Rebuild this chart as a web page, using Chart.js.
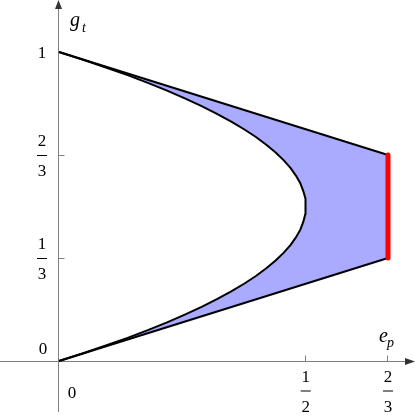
<!DOCTYPE html>
<html>
<head>
<meta charset="utf-8">
<script src="https://cdn.jsdelivr.net/npm/chart.js@4"></script>
<style>
  html, body { margin: 0; padding: 0; background: #fff; }
  #wrap { width: 415px; height: 415px; }
</style>
</head>
<body>
<div id="wrap"><canvas id="plot" width="415" height="415"></canvas></div>
<script>
// boundary curve (g_t going up, e_p across)
const curveG = [0, 0.025, 0.05, 0.075, 0.1, 0.125, 0.15, 0.175, 0.2, 0.225, 0.25, 0.275, 0.3, 0.325, 0.35, 0.375, 0.4, 0.425, 0.45, 0.475, 0.5,
  0.525, 0.55, 0.575, 0.6, 0.625, 0.65, 0.675, 0.7, 0.725, 0.75, 0.775, 0.8, 0.825, 0.85, 0.875, 0.9, 0.925, 0.95, 0.975, 1];
const curveE = [0, 0.049, 0.095, 0.139, 0.18, 0.219, 0.255, 0.289, 0.32, 0.349, 0.375, 0.399, 0.42, 0.439, 0.455, 0.469, 0.48, 0.489, 0.495, 0.499, 0.5,
  0.499, 0.495, 0.489, 0.48, 0.469, 0.455, 0.439, 0.42, 0.399, 0.375, 0.349, 0.32, 0.289, 0.255, 0.219, 0.18, 0.139, 0.095, 0.049, 0];

// straight edges
const edgeE = [0, 2 / 3];
const upperG = [1, 2 / 3];
const lowerG = [0, 1 / 3];
const redE = [2 / 3, 2 / 3];
const redG = [1 / 3, 2 / 3];

// ticks
const xTicks = [1 / 2, 2 / 3];
const xTickLabels = [['1', '2'], ['2', '3']];
const yTicks = [1 / 3, 2 / 3];
const yTickLabels = [['1', '3'], ['2', '3']];

const pts = (xs, ys) => xs.map((v, i) => ({ x: v, y: ys[i] }));

// closed outline of the shaded region
const regionPts = [
  { x: edgeE[0], y: upperG[0] }, { x: edgeE[1], y: upperG[1] },
  { x: edgeE[1], y: lowerG[1] }, { x: edgeE[0], y: lowerG[0] },
  ...pts(curveE, curveG)
];

const serif = '"Times New Roman", "Liberation Serif", serif';

function frac(ctx, num, den, cx, cy) {
  ctx.font = '17px ' + serif;
  ctx.textAlign = 'center';
  ctx.textBaseline = 'alphabetic';
  ctx.fillText(num, cx, cy - 9);
  ctx.fillText(den, cx, cy + 21);
  ctx.beginPath();
  ctx.moveTo(cx - 5, cy + 0.5);
  ctx.lineTo(cx + 5, cy + 0.5);
  ctx.stroke();
}

const axesPlugin = {
  id: 'mathAxes',
  beforeDatasetsDraw(chart) {
    const { ctx, scales: { x, y } } = chart;
    const x0 = Math.round(x.getPixelForValue(0)) - 0.5;
    const y0 = Math.round(y.getPixelForValue(0)) + 0.5;
    ctx.save();
    ctx.strokeStyle = '#808080';
    ctx.lineWidth = 1;
    ctx.beginPath();
    ctx.moveTo(x0, 412); ctx.lineTo(x0, 6);
    ctx.moveTo(0, y0); ctx.lineTo(408, y0);
    xTicks.forEach(v => {
      const px = Math.round(x.getPixelForValue(v)) - 0.5;
      ctx.moveTo(px, y0); ctx.lineTo(px, y0 - 6);
    });
    yTicks.forEach(v => {
      const py = Math.round(y.getPixelForValue(v)) + 0.5;
      ctx.moveTo(x0, py); ctx.lineTo(x0 + 6, py);
    });
    ctx.stroke();

    // arrow heads
    ctx.fillStyle = '#333';
    ctx.beginPath();
    ctx.moveTo(x0, 0); ctx.lineTo(x0 - 3.5, 9); ctx.lineTo(x0 + 3.5, 9); ctx.closePath();
    ctx.moveTo(415, y0); ctx.lineTo(405, y0 - 3.5); ctx.lineTo(405, y0 + 3.5); ctx.closePath();
    ctx.fill();

    // tick labels
    ctx.fillStyle = '#000';
    ctx.strokeStyle = '#000';
    xTicks.forEach((v, i) => {
      frac(ctx, xTickLabels[i][0], xTickLabels[i][1], x.getPixelForValue(v), y0 + 29);
    });
    yTicks.forEach((v, i) => {
      frac(ctx, yTickLabels[i][0], yTickLabels[i][1], 42, Math.round(y.getPixelForValue(v)));
    });
    ctx.font = '17px ' + serif;
    ctx.textAlign = 'center';
    ctx.fillText('1', 42, y.getPixelForValue(1) + 6);
    ctx.fillText('0', 43, y0 - 8);
    ctx.fillText('0', 72, y0 + 36);

    // axis names
    ctx.textAlign = 'left';
    ctx.font = 'italic 20px ' + serif;
    ctx.fillText('g', 70, 26);
    ctx.fillText('e', 379, 342);
    ctx.font = 'italic 14px ' + serif;
    ctx.fillText('t', 82, 32);
    ctx.fillText('p', 387, 347);
    ctx.restore();
  }
};

new Chart(document.getElementById('plot'), {
  type: 'scatter',
  data: {
    datasets: [
      { data: pts(redE, redG), showLine: true, borderColor: 'rgb(255,0,0)', borderWidth: 5, borderCapStyle: 'round' },
      { data: pts(edgeE, upperG), showLine: true, borderColor: '#000', borderWidth: 2 },
      { data: pts(edgeE, lowerG), showLine: true, borderColor: '#000', borderWidth: 2 },
      { data: pts(curveE, curveG), showLine: true, borderColor: '#000', borderWidth: 2, borderJoinStyle: 'round' },
      { data: regionPts, showLine: true, borderColor: 'transparent', borderWidth: 0, backgroundColor: 'rgb(170,170,255)', fill: 'shape' }
    ]
  },
  options: {
    responsive: false,
    animation: false,
    layout: { padding: 0 },
    elements: { point: { radius: 0, hoverRadius: 0 }, line: { tension: 0 } },
    scales: {
      x: { type: 'linear', display: false, min: -59 / 493.5, max: (415 - 59) / 493.5 },
      y: { type: 'linear', display: false, min: -(415 - 361) / 309, max: 361 / 309 }
    },
    plugins: { legend: { display: false }, tooltip: { enabled: false } }
  },
  plugins: [axesPlugin]
});
</script>
</body>
</html>
